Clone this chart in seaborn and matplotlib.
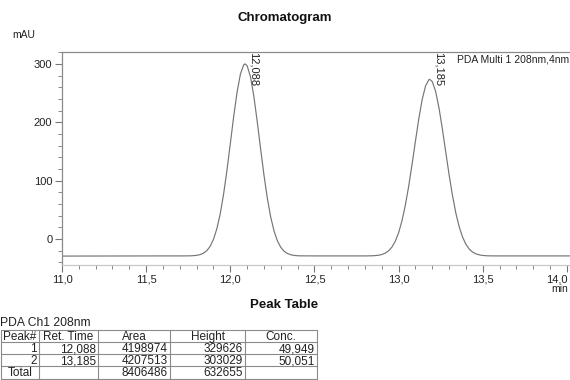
import matplotlib
matplotlib.use("Agg")
import matplotlib.pyplot as plt
import seaborn as sns
import pandas as pd
from matplotlib.ticker import MultipleLocator, FixedLocator, FixedFormatter
from matplotlib.transforms import blended_transform_factory, ScaledTranslation

# ---------------- data ----------------
time_min = [
    11.00, 11.20, 11.40, 11.60, 11.70,
    11.76, 11.78, 11.80, 11.82, 11.84, 11.86, 11.88, 11.90, 11.92, 11.94,
    11.96, 11.98, 12.00, 12.02, 12.04, 12.06, 12.08, 12.088, 12.10, 12.12,
    12.14, 12.16, 12.18, 12.20, 12.22, 12.24, 12.26, 12.28, 12.30, 12.32,
    12.34, 12.36, 12.38, 12.40, 12.42,
    12.50, 12.60, 12.70, 12.80,
    12.84, 12.86, 12.88, 12.90, 12.92, 12.94, 12.96, 12.98, 13.00, 13.02,
    13.04, 13.06, 13.08, 13.10, 13.12, 13.14, 13.16, 13.18, 13.185, 13.20,
    13.22, 13.24, 13.26, 13.28, 13.30, 13.32, 13.34, 13.36, 13.38, 13.40,
    13.42, 13.44, 13.46, 13.48, 13.50, 13.52, 13.54,
    13.60, 13.70, 13.80, 13.90, 14.00, 14.10, 14.20,
]
signal_mau = [
    -29.5, -29.4, -29.3, -29.2, -29.2,
    -29.1, -28.8, -28.2, -27.0, -24.6, -20.3, -12.8, -0.7, 17.5, 43.1,
    76.8, 117.8, 163.6, 210.0, 251.7, 282.9, 298.9, 300.3, 297.0, 277.8,
    244.1, 200.9, 154.2, 109.1, 69.4, 37.3, 13.2, -3.6, -14.6, -21.4,
    -25.2, -27.3, -28.4, -28.9, -29.1,
    -29.2, -29.2, -29.2, -29.2,
    -29.0, -28.7, -28.1, -26.8, -24.5, -20.6, -14.1, -4.0, 10.8, 31.4,
    58.2, 91.1, 128.7, 168.4, 206.8, 239.6, 262.7, 273.3, 273.7, 269.7,
    252.6, 224.1, 188.0, 148.5, 109.4, 74.0, 44.0, 20.3, 2.8, -9.6,
    -17.7, -22.8, -25.8, -27.5, -28.4, -28.9, -29.1,
    -29.2, -29.2, -29.2, -29.2, -29.2, -29.2, -29.2,
]
peak_times = [12.088, 13.185]
peak_labels = ["12,088", "13,185"]

x_ticks = [11.0, 11.5, 12.0, 12.5, 13.0, 13.5, 14.0]
x_tick_labels = ["11,0", "11,5", "12,0", "12,5", "13,0", "13,5", "14,0"]
y_ticks = [0, 100, 200, 300]
y_tick_labels = ["0", "100", "200", "300"]

table_header = ["Peak#", "Ret. Time", "Area", "Height", "Conc."]
table_peak = ["1", "2", "Total"]
table_ret = ["12,088", "13,185", ""]
table_area = ["4198974", "4207513", "8406486"]
table_height = ["329626", "303029", "632655"]
table_conc = ["49,949", "50,051", ""]

# ---------------- style ----------------
sns.set_theme(style="white")
plt.rcParams["font.family"] = ["Liberation Sans", "DejaVu Sans"]

W, H = 570, 380
fig = plt.figure(figsize=(W / 100, H / 100), dpi=100)
fig.patch.set_facecolor("white")

def px_axes(l, t, r, b):
    return [l / W, 1 - b / H, (r - l) / W, (b - t) / H]

# chart axes: x 11.0 at px 62, 168.33 px per minute; extends past right edge
ax = fig.add_axes(px_axes(62, 52, 62 + 3.2 * 168.33, 265))
df = pd.DataFrame({"time": time_min, "signal": signal_mau})
sns.lineplot(data=df, x="time", y="signal", ax=ax, color="#757575",
             linewidth=0.85, estimator=None, sort=False)
ax.set_xlim(11.0, 14.2)
ax.set_ylim(-44.8, 320.7)
ax.set_xlabel("")
ax.set_ylabel("")

ax.xaxis.set_major_locator(FixedLocator(x_ticks))
ax.xaxis.set_major_formatter(FixedFormatter(x_tick_labels))
ax.xaxis.set_minor_locator(MultipleLocator(0.1))
ax.yaxis.set_major_locator(FixedLocator(y_ticks))
ax.yaxis.set_major_formatter(FixedFormatter(y_tick_labels))
ax.yaxis.set_minor_locator(MultipleLocator(20))

ax.tick_params(axis="both", which="major", direction="out", length=5,
               width=0.8, color="#777777", labelsize=8, labelcolor="#222222",
               pad=2, bottom=True, left=True)
ax.tick_params(axis="both", which="minor", direction="out", length=3,
               width=0.7, color="#888888", bottom=True, left=True)
for side in ["left", "top", "bottom"]:
    ax.spines[side].set_visible(True)
    ax.spines[side].set_color("#8a8a8a")
    ax.spines[side].set_linewidth(0.9)
ax.spines["bottom"].set_color("#c8c8c8")
ax.spines["right"].set_visible(False)

# keep the last x tick label inside the picture (the reference clips it)
fig.canvas.draw()
last = ax.get_xticklabels()[-1]
last.set_transform(last.get_transform() + ScaledTranslation(-10 / 100, 0, fig.dpi_scale_trans))

# peak labels (rotated, anchored to top of axes)
trans = blended_transform_factory(ax.transData, ax.transAxes)
for t, lab in zip(peak_times, peak_labels):
    ax.annotate(lab, xy=(t, 1.0), xycoords=trans, xytext=(2.5, 0),
                textcoords="offset points", rotation=270, ha="left",
                va="top", fontsize=8, color="#222222")

# overlay in pixel coordinates for texts and table
ov = fig.add_axes([0, 0, 1, 1])
ov.set_xlim(0, W)
ov.set_ylim(H, 0)
ov.axis("off")
ov.patch.set_visible(False)

ov.text(285, 18, "Chromatogram", ha="center", va="center", fontsize=9.5,
        fontweight="bold", color="#111111")
ov.text(12, 35, "mAU", ha="left", va="center", fontsize=7.5, color="#222222")
ov.text(457, 60, "PDA Multi 1 208nm,4nm", ha="left", va="center",
        fontsize=7.5, color="#222222")
ov.text(568, 289, "min", ha="right", va="center", fontsize=7.5,
        color="#222222")

ov.text(284, 305, "Peak Table", ha="center", va="center", fontsize=9.5,
        fontweight="bold", color="#111111")
ov.text(0, 323, "PDA Ch1 208nm", ha="left", va="center", fontsize=8.7,
        color="#222222")

col_edges = [0.5, 39, 98, 170, 245, 317]
row_edges = [330, 342, 354, 366, 378.5]
lc = "#8a8a8a"
for xe in col_edges:
    ov.plot([xe, xe], [row_edges[0], row_edges[-1]], color=lc, lw=0.8)
for ye in row_edges:
    ov.plot([col_edges[0], col_edges[-1]], [ye, ye], color=lc, lw=0.8)

def row_base(i):
    return row_edges[i + 1] - 2.0

fs = 8.5
for j, h in enumerate(table_header):
    ov.text((col_edges[j] + col_edges[j + 1]) / 2, row_base(0), h,
            ha="center", va="baseline", fontsize=fs, color="#222222")

columns = [table_peak, table_ret, table_area, table_height, table_conc]
for i in range(3):
    for j, col in enumerate(columns):
        val = col[i]
        if not val:
            continue
        if val == "Total":
            ov.text((col_edges[j] + col_edges[j + 1]) / 2, row_base(i + 1),
                    val, ha="center", va="baseline", fontsize=fs,
                    color="#222222")
        else:
            ov.text(col_edges[j + 1] - 2, row_base(i + 1), val, ha="right",
                    va="baseline", fontsize=fs, color="#222222")

fig.savefig("out.png", dpi=100)
